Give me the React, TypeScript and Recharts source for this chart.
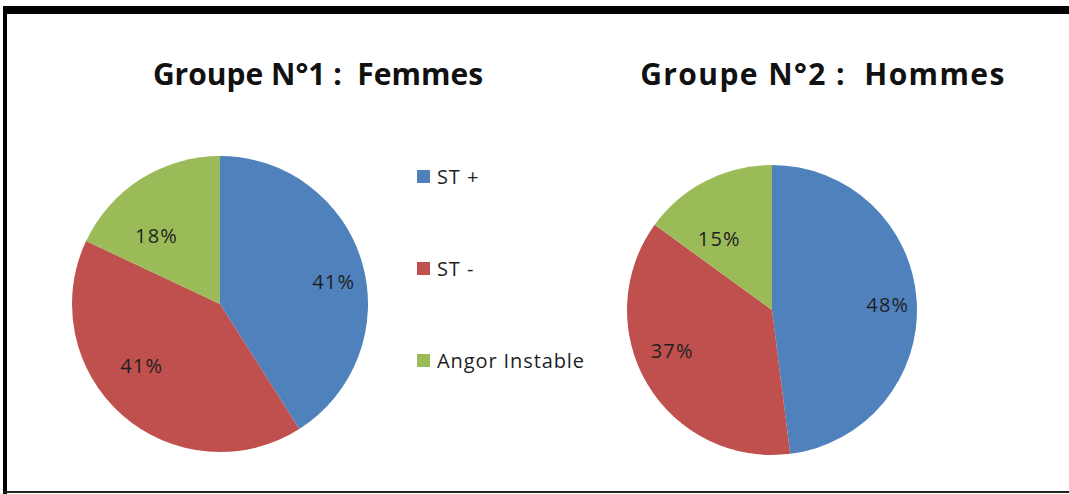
import { PieChart, Pie, Cell, Legend } from "recharts";

const categories = ["ST +", "ST -", "Angor Instable"];
const femmes = [41, 41, 18];
const hommes = [48, 37, 15];
const titles = ["Groupe N°1 :  Femmes", "Groupe N°2 :  Hommes"];
const colors = ["#4F81BD", "#C0504D", "#9BBB59"];

const femmesData = categories.map((name, i) => ({ name, value: femmes[i] }));
const hommesData = categories.map((name, i) => ({ name, value: hommes[i] }));

const RADIAN = Math.PI / 180;
const FONT = "'Open Sans', Lato, sans-serif";

// labels sit inside the slice, a bit flattened like Excel's "best fit"
const renderLabel = (props: any) => {
  const { cx, cy, midAngle, outerRadius, percent } = props;
  const x = cx + outerRadius * 0.8 * Math.cos(-midAngle * RADIAN);
  const y = cy + outerRadius * 0.55 * Math.sin(-midAngle * RADIAN);
  return (
    <text x={x} y={y} fill="#1f1f1f" textAnchor="middle" dominantBaseline="central" fontSize={20} letterSpacing={1.2} fontFamily={FONT}>
      {Math.round(percent * 100)}%
    </text>
  );
};

const renderLegend = () => (
  <div style={{ fontFamily: FONT, fontSize: 20, letterSpacing: 0.9, color: "#1f1f1f" }}>
    {categories.map((c, i) => (
      <div key={c} style={{ display: "flex", alignItems: "center", height: 26, marginBottom: i < 2 ? 66 : 0 }}>
        <span style={{ width: 13, height: 13, background: colors[i], marginRight: 7, display: "inline-block" }} />
        <span>{c}</span>
      </div>
    ))}
  </div>
);

const titleStyle = {
  position: "absolute" as const,
  width: 440,
  top: 54,
  textAlign: "center" as const,
  fontFamily: FONT,
  fontWeight: 700,
  fontSize: 30,
  lineHeight: "40px",
  whiteSpace: "pre" as const,
  color: "#111",
};

export default function App() {
  return (
    <div style={{ position: "absolute", left: 0, top: 0, width: 1069, height: 494, background: "#fff", overflow: "hidden" }}>
      {/* frame */}
      <div style={{ position: "absolute", left: 3, top: 6, right: 0, height: 8, background: "#000" }} />
      <div style={{ position: "absolute", left: 3, top: 6, width: 4, bottom: 0, background: "#000" }} />
      <div style={{ position: "absolute", left: 3, right: 0, top: 491, height: 2, background: "#222" }} />

      <div style={{ ...titleStyle, left: 98 }}>{titles[0]}</div>
      <div style={{ ...titleStyle, left: 603, letterSpacing: 1.4 }}>{titles[1]}</div>

      <PieChart width={1069} height={494} margin={{ top: 0, right: 0, bottom: 0, left: 0 }} style={{ position: "absolute", left: 0, top: 0 }}>
        <Pie
          data={femmesData}
          dataKey="value"
          nameKey="name"
          cx={220}
          cy={304}
          outerRadius={148}
          startAngle={90}
          endAngle={-270}
          stroke="none"
          label={renderLabel}
          labelLine={false}
          isAnimationActive={false}
        >
          {femmesData.map((d, i) => (
            <Cell key={d.name} fill={colors[i]} />
          ))}
        </Pie>
        <Pie
          data={hommesData}
          dataKey="value"
          nameKey="name"
          cx={772}
          cy={310}
          outerRadius={145}
          startAngle={90}
          endAngle={-270}
          stroke="none"
          label={renderLabel}
          labelLine={false}
          isAnimationActive={false}
        >
          {hommesData.map((d, i) => (
            <Cell key={d.name} fill={colors[i]} />
          ))}
        </Pie>
        <Legend
          content={renderLegend}
          layout="vertical"
          wrapperStyle={{ position: "absolute", left: 417, top: 163, width: 200 }}
        />
      </PieChart>
    </div>
  );
}
